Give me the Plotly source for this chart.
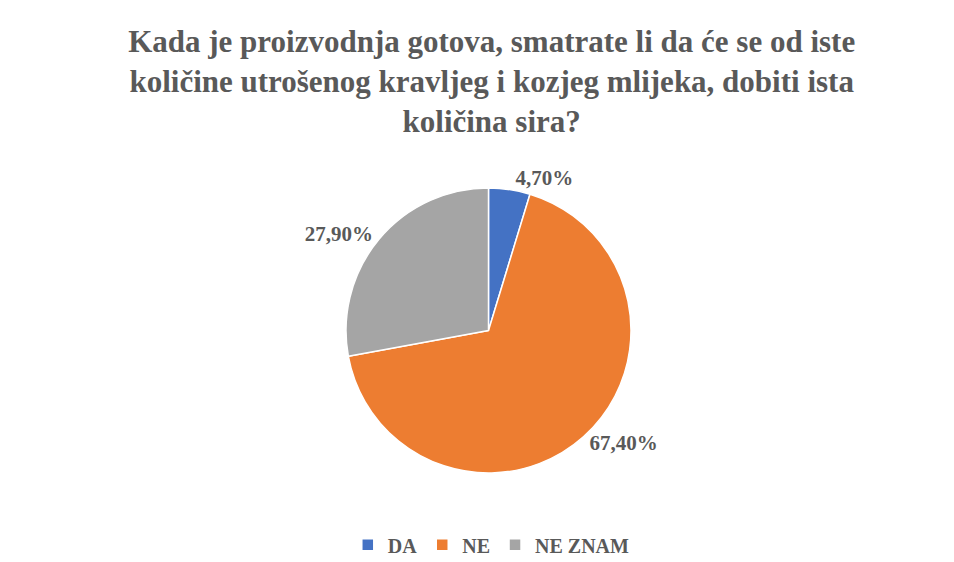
import plotly.graph_objects as go

categories = ["DA", "NE", "NE ZNAM"]
values = [4.70, 67.40, 27.90]
value_labels = ["4,70%", "67,40%", "27,90%"]
colors = ["#4472C4", "#ED7D31", "#A5A5A5"]

title_text = ("<b>Kada je proizvodnja gotova, smatrate li da će se od iste<br>"
              "količine utrošenog kravljeg i kozjeg mlijeka, dobiti ista<br>"
              "količina sira?</b>")

FONT = "Liberation Serif, Times New Roman, serif"
GREY = "#595959"

fig = go.Figure(go.Pie(
    labels=["<b>%s</b>" % c for c in categories],
    values=values,
    text=["<b>%s</b>" % t for t in value_labels],
    textinfo="text",
    textposition="outside",
    sort=False,
    direction="clockwise",
    rotation=0,
    marker=dict(colors=colors, line=dict(color="white", width=1.5)),
    outsidetextfont=dict(family=FONT, size=21, color=GREY),
    domain=dict(x=[0, 1], y=[0, 1]),
))

fig.update_layout(
    width=954, height=562,
    paper_bgcolor="white",
    plot_bgcolor="white",
    font=dict(family=FONT, color=GREY),
    margin=dict(l=306, r=299, t=180, b=97),
    title=dict(text=title_text, x=0.507, xanchor="center",
               yref="container", y=0.922, yanchor="top",
               font=dict(family=FONT, size=31, color=GREY)),
    legend=dict(orientation="h", x=0.508, xanchor="center",
                yref="container", y=0.045, yanchor="middle",
                font=dict(family=FONT, size=20, color=GREY),
                itemwidth=30),
    showlegend=True,
)

fig.write_html("out.html")
